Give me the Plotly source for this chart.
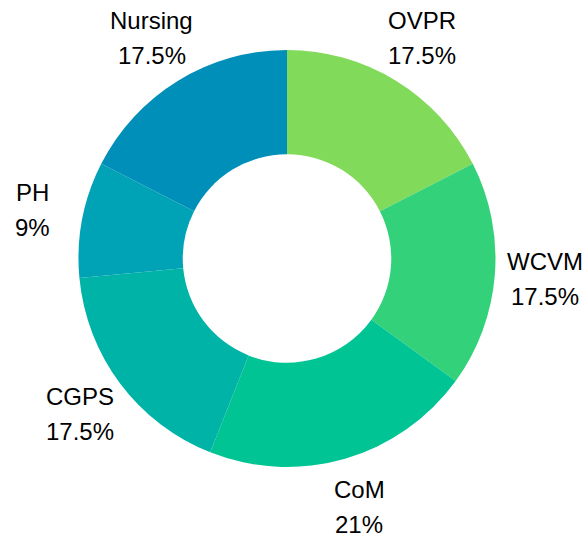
import math
import plotly.graph_objects as go

units = ["OVPR", "WCVM", "CoM", "CGPS", "PH", "Nursing"]
shares = [17.5, 17.5, 21, 17.5, 9, 17.5]
colors = ["#82DA5A", "#33D17A", "#00C493", "#00B3A7", "#00A2B5", "#008FB9"]

W, H = 584, 533
M = dict(l=78, r=88, t=50, b=66)
PLOT_W = W - M["l"] - M["r"]
PLOT_H = H - M["t"] - M["b"]
LABEL_R = 259  # px from centre to label centre
LINE_GAP = 17.5

fig = go.Figure(go.Pie(
    labels=units,
    values=shares,
    hole=0.5,
    sort=False,
    direction="clockwise",
    rotation=0,
    marker=dict(colors=colors, line=dict(width=0)),
    textinfo="none",
    showlegend=False,
    hoverinfo="label+percent",
))

# outside labels, placed on each slice's mid angle
total = sum(shares)
cum = 0.0
font = dict(family="Liberation Sans, Arial, sans-serif", size=24, color="#000")
for name, v in zip(units, shares):
    mid = (cum + v / 2) / total * 2 * math.pi
    cum += v
    x = 0.5 + LABEL_R * math.sin(mid) / PLOT_W
    y = 0.5 + LABEL_R * math.cos(mid) / PLOT_H
    pct = f"{v / total * 100:.3g}%"
    for txt, shift in ((name, LINE_GAP), (pct, -LINE_GAP)):
        fig.add_annotation(x=x, y=y, xref="paper", yref="paper", text=txt,
                           showarrow=False, xanchor="center", yanchor="middle",
                           yshift=shift, font=font)

fig.update_layout(
    width=W,
    height=H,
    margin=M,
    paper_bgcolor="white",
    plot_bgcolor="white",
)

# drop the default 8px body margin so the figure fills the window
fig.write_html("out.html",
               config={"displayModeBar": False},
               post_script="document.body.style.margin='0';document.body.style.overflow='hidden';")
